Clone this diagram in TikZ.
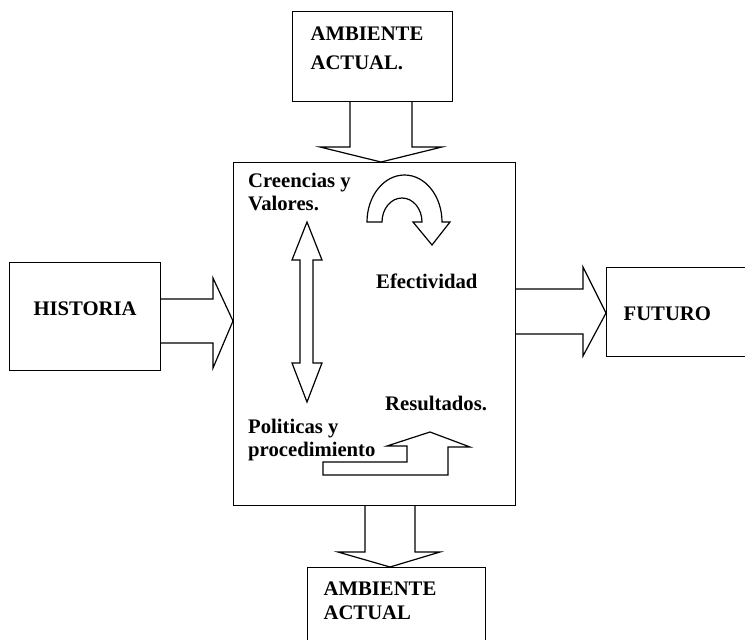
\documentclass[tikz,border=0pt]{standalone}
\usepackage{fontspec}
\setmainfont{Liberation Serif}
\usetikzlibrary{positioning}

\begin{document}
\begin{tikzpicture}[
    x=1pt, y=-1pt,
    font=\fontsize{20.7}{24}\selectfont\bfseries,
    box/.style={rectangle, draw, line width=1.2pt, anchor=north west},
    fat/.style={draw, line width=1.2pt, line join=miter},
    txt/.style={inner sep=0pt, align=left, font=\fontsize{20.7}{22.5}\selectfont\bfseries}
]

\useasboundingbox (0,0) rectangle (745,640);

% Central box
\node[box, minimum width=282pt, minimum height=343pt] (main) at (233,162) {};

% Outer boxes
\node[box, inner xsep=18pt, inner ysep=15pt, font=\fontsize{20.7}{29}\selectfont\bfseries] (amb1) at (292,11) {\parbox[c][60pt][t]{124pt}{AMBIENTE\\ACTUAL.}};
\node[box, inner sep=0pt, minimum width=151pt, text height=52.7pt, text depth=55.3pt] (hist) at (9,262) {HISTORIA};
\node[box, inner xsep=17pt, inner ysep=0pt, text width=150pt, text height=53pt, text depth=36pt] (fut) at (606,267) {FUTURO};
\node[box, inner xsep=16pt, inner ysep=14pt] (amb2) at (307,567) {\parbox[c][72pt][t]{146pt}{AMBIENTE\\ACTUAL}};

% Inner labels
\node[txt, anchor=north west] (creen) at (248,173) {Creencias y\\Valores.};
\node[txt, anchor=base west] (efec) at (376,288) {Efectividad};
\node[txt, anchor=base west] (result) at (385,410) {Resultados.};
\node[txt, anchor=north west] (polit) at (248,419) {Politicas y\\procedimiento};

% Inner arrows
\draw[fat] (307,222) -- (322,260) -- (313,260) -- (313,363) -- (322,363) -- (307,402) -- (292,363) -- (300,363) -- (300,260) -- (292,260) -- cycle;
\draw[fat] (367,222) arc[start angle=180, end angle=360, x radius=37.5, y radius=47] -- (450,222) -- (432,245) -- (413,222) -- (422,222) arc[start angle=360, end angle=180, x radius=20, y radius=24] -- cycle;
\draw[fat] (430,432) -- (470,447) -- (448,447) -- (448,475) -- (323,475) -- (323,462) -- (407,462) -- (407,446) -- (387,446) -- cycle;

% Block arrows between boxes
\draw[fat] (350,0 |- amb1.south) -- (350,147) -- (320,147) -- (381,0 |- main.north) -- (442,147) -- (412,147) -- (412,0 |- amb1.south);
\draw[fat] (hist.east |- 0,299) -- (213,299) -- (213,278) -- (main.west |- 0,321) -- (213,368) -- (213,343) -- (hist.east |- 0,343);
\draw[fat] (main.east |- 0,289) -- (583,289) -- (583,267) -- (fut.west |- 0,313) -- (583,356) -- (583,334) -- (main.east |- 0,334);
\draw[fat] (365,0 |- main.south) -- (365,552) -- (338,552) -- (390,0 |- amb2.north) -- (440,552) -- (415,552) -- (415,0 |- main.south);

\end{tikzpicture}
\end{document}
